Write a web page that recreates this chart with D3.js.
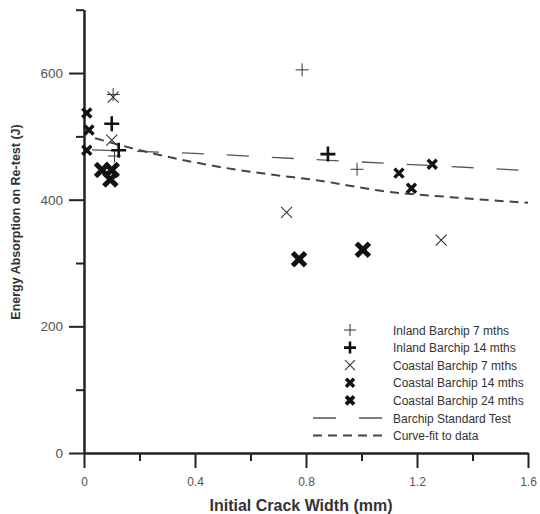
<!DOCTYPE html>
<html>
<head>
<meta charset="utf-8">
<script src="https://cdn.jsdelivr.net/npm/d3@7"></script>
<style>
  body { margin: 0; background: #fff; }
  svg { display: block; font-family: "Liberation Sans", Arial, sans-serif; }
</style>
</head>
<body>
<svg width="540" height="514"></svg>
<script>
// data
const inland7X = [0.105, 0.11, 0.786, 0.984];
const inland7Y = [566, 469, 605, 448];
const inland14X = [0.10, 0.125, 0.879];
const inland14Y = [520, 478, 472];
const coastal7X = [0.105, 0.10, 0.73, 1.287];
const coastal7Y = [562, 494, 380, 336];
const coastal14X = [0.01, 0.018, 0.01, 1.135, 1.18, 1.255];
const coastal14Y = [537, 510, 478, 442, 418, 456];
const coastal24X = [0.065, 0.10, 0.095, 0.775, 1.005];
const coastal24Y = [447, 447, 432, 306, 321];

const standardX = [0, 0.4, 0.8, 1.2, 1.6];
const standardY = [479, 473, 464, 455, 446];
const fitX = [0.04, 0.24, 0.54, 0.67, 0.85, 1.07, 1.32, 1.6];
const fitY = [497, 474, 448, 440, 430, 414, 404, 395];

const xMajor = [0, 0.4, 0.8, 1.2, 1.6];
const xMinor = [0.2, 0.6, 1.0, 1.4];
const yMajor = [0, 200, 400, 600];
const yMinor = [100, 300, 500, 700];

const legendLabels = ['Inland Barchip 7 mths', 'Inland Barchip 14 mths', 'Coastal Barchip 7 mths',
  'Coastal Barchip 14 mths', 'Coastal Barchip 24 mths', 'Barchip Standard Test', 'Curve-fit to data'];

const svg = d3.select('svg');
const x = d3.scaleLinear().domain([0, 1.6]).range([84, 528]);
const y = d3.scaleLinear().domain([0, 700]).range([453, 9.7]);

// axes
const axisColor = '#222';
function styleAxis(size) {
  return g => {
    g.selectAll('path.domain').attr('stroke', axisColor).attr('stroke-width', 2);
    g.selectAll('.tick line').attr('stroke', axisColor).attr('stroke-width', 2);
    g.selectAll('.tick text').attr('fill', '#555').style('font-size', size + 'px')
      .style('font-family', '"Liberation Sans", Arial, sans-serif');
  };
}

svg.append('g').attr('transform', 'translate(0,453)')
  .call(d3.axisBottom(x).tickValues(xMinor).tickSize(8).tickSizeOuter(0).tickFormat(''))
  .call(styleAxis(12));
svg.append('g').attr('transform', 'translate(0,453)')
  .call(d3.axisBottom(x).tickValues(xMajor).tickSize(15).tickSizeOuter(0).tickPadding(9)
    .tickFormat(d => d === 0 ? '0' : d3.format('.1f')(d)))
  .call(styleAxis(12));

svg.append('g').attr('transform', 'translate(84,0)')
  .call(d3.axisLeft(y).tickValues(yMinor).tickSize(8).tickSizeOuter(0).tickFormat(''))
  .call(styleAxis(13));
svg.append('g').attr('transform', 'translate(84,0)')
  .call(d3.axisLeft(y).tickValues(yMajor).tickSize(15).tickSizeOuter(0).tickPadding(6))
  .call(styleAxis(13.5));

// axis titles
svg.append('text')
  .attr('x', 301).attr('y', 511)
  .attr('text-anchor', 'middle')
  .attr('font-weight', 'bold').attr('font-size', 16).attr('fill', '#333')
  .text('Initial Crack Width (mm)');
svg.append('text')
  .attr('transform', 'translate(20,222) rotate(-90)')
  .attr('text-anchor', 'middle')
  .attr('font-weight', 'bold').attr('font-size', 12.5).attr('fill', '#333')
  .text('Energy Absorption on Re-test (J)');

// lines
const line = d3.line().x(d => x(d[0])).y(d => y(d[1])).curve(d3.curveMonotoneX);
svg.append('path')
  .attr('d', line(d3.zip(standardX, standardY)))
  .attr('fill', 'none').attr('stroke', '#555').attr('stroke-width', 1.3)
  .attr('stroke-dasharray', '22,23').attr('stroke-dashoffset', -8);
svg.append('path')
  .attr('d', line(d3.zip(fitX, fitY)))
  .attr('fill', 'none').attr('stroke', '#444').attr('stroke-width', 2)
  .attr('stroke-dasharray', '9,6');

// markers
const plus = s => `M${-s},0H${s}M0,${-s}V${s}`;
const cross = s => `M${-s},${-s}L${s},${s}M${-s},${s}L${s},${-s}`;
const series = [
  { xs: inland7X, ys: inland7Y, d: plus(6.5), key: plus(6), w: 1, c: '#333' },
  { xs: inland14X, ys: inland14Y, d: plus(7.5), key: plus(6), w: 2.6, c: '#111' },
  { xs: coastal7X, ys: coastal7Y, d: cross(5.5), key: cross(5), w: 1.1, c: '#333' },
  { xs: coastal14X, ys: coastal14Y, d: cross(4.5), key: cross(4), w: 3.4, c: '#111' },
  { xs: coastal24X, ys: coastal24Y, d: cross(6.5), key: cross(4), w: 3.8, c: '#111' }
];
series.forEach(s => {
  svg.append('g').selectAll('path')
    .data(d3.zip(s.xs, s.ys))
    .join('path')
    .attr('transform', d => `translate(${x(d[0])},${y(d[1])})`)
    .attr('d', s.d)
    .attr('fill', 'none').attr('stroke', s.c)
    .attr('stroke-width', s === series[4] ? 5 : s.w);
});

// legend
const legend = svg.append('g');
const rowY = i => 330 + i * 17.6;
legendLabels.forEach((label, i) => {
  legend.append('text')
    .attr('x', 393).attr('y', rowY(i) + 4.5)
    .attr('font-size', 12).attr('fill', '#333')
    .text(label);
  if (i < series.length) {
    legend.append('path')
      .attr('transform', `translate(350,${rowY(i)})`)
      .attr('d', series[i].key)
      .attr('fill', 'none').attr('stroke', series[i].c).attr('stroke-width', series[i].w);
  }
});
legend.append('path')
  .attr('d', `M313,${rowY(5)}H382`)
  .attr('stroke', '#555').attr('stroke-width', 1.3).attr('stroke-dasharray', '23,23');
legend.append('path')
  .attr('d', `M313,${rowY(6)}H382`)
  .attr('stroke', '#444').attr('stroke-width', 2).attr('stroke-dasharray', '9,6');
</script>
</body>
</html>
